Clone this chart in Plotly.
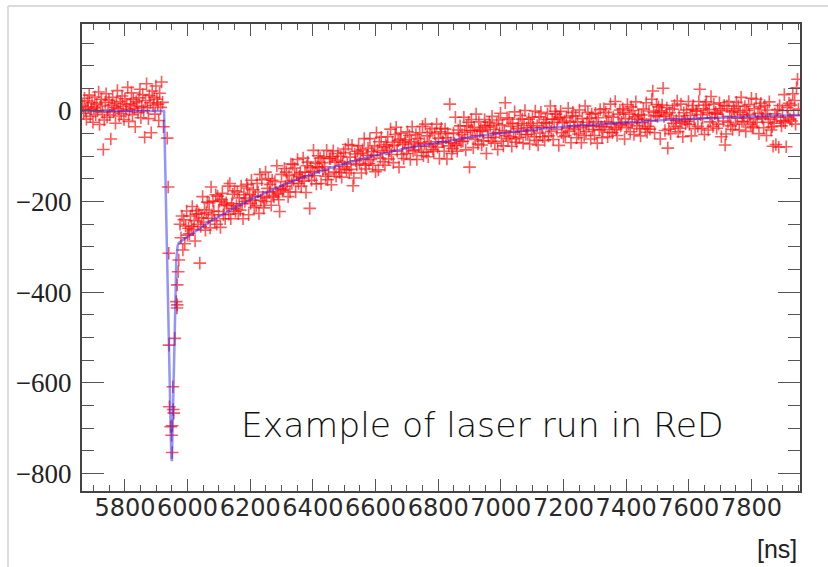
import numpy as np
import plotly.graph_objects as go

# ---------------- data ----------------
# baseline samples before the laser pulse (uniform 3 ns sampling)
X_PRE_START = 5665
X_STEP = 3
PRE_Y = [12, -5, 28, 3, -18, 22, 9, 35, -12, 4,
         18, -25, 7, 31, -8, 15, 0, 42, -30, 11,
         26, -3, -85, -20, 19, 38, -14, 2, 24, -9,
         -62, 13, 30, -2, 8, -27, 17, 45, 5, -11,
         21, -6, 33, 10, -19, 27, -1, 14, 52, -23,
         3, 16, 40, -8, 25, 6, -35, 20, 11, -4,
         29, 48, -15, 9, 36, 1, -58, 23, 60, 7,
         -17, 34, 18, -48, 44, 12, 30, -7, 55, 26,
         15, -21, 39, 8, 64, 19]

# samples on the fast pulse
SPIKE_X = [5923, 5935, 5938, 5940, 5941, 5942, 5946, 5949, 5951, 5951,
           5953, 5954, 5956, 5959, 5964, 5966, 5967, 5967, 5970, 5972]
SPIKE_Y = [-35, -60, -168, -314, -517, -653, -697, -716, -754, -695,
           -609, -659, -667, -502, -421, -435, -428, -384, -355, -329]

# slow tail samples (uniform 3 ns sampling)
X_POST_START = 5976
POST_Y = [
    -250, -280, -232, -307, -240, -293, -254, -221, -274, -259,
    -271, -232, -255, -211, -262, -242, -287, -228, -220, -250,
    -227, -336, -255, -236, -189, -245, -218, -263, -225, -201,
    -237, -203, -258, -168, -229, -199, -221, -242, -185, -250,
    -188, -222, -199, -257, -195, -182, -229, -207, -238, -203,
    -209, -166, -228, -160, -238, -205, -184, -215, -176, -222,
    -209, -179, -227, -192, -219, -166, -205, -238, -185, -200,
    -192, -162, -170, -229, -184, -204, -153, -197, -174, -213,
    -188, -209, -160, -179, -226, -140, -197, -152, -190, -214,
    -200, -135, -192, -171, -149, -179, -162, -208, -153, -187,
    -190, -156, -179, -121, -183, -196, -222, -171, -140, -175,
    -173, -127, -166, -135, -156, -189, -143, -179, -117, -160,
    -118, -153, -126, -179, -140, -107, -160, -145, -136, -166,
    -148, -104, -155, -135, -180, -121, -113, -143, -215, -125,
    -153, -134, -87, -143, -116, -161, -123, -99, -125, -104,
    -160, -114, -131, -101, -123, -144, -87, -152, -139, -105,
    -105, -163, -101, -88, -135, -113, -144, -109, -94, -128,
    -136, -100, -146, -113, -92, -123, -84, -130, -117, -74,
    -137, -102, -129, -76, -165, -148, -95, -110, -119, -89,
    -77, -116, -93, -137, -86, -106, -61, -120, -128, -98,
    -82, -116, -61, -107, -90, -120, -98, -77, -134, -48,
    -87, -130, -68, -104, -58, -91, -112, -81, -120, -74,
    -78, -57, -106, -87, -40, -96, -69, -114, -76, -52,
    -36, -89, -66, -124, -62, -49, -96, -74, -105, -70,
    -64, -94, -46, -81, -54, -107, -68, -35, -88, -73,
    -86, -52, -107, -61, -78, -48, -70, -91, -34, -99,
    -72, -29, -91, -55, -101, -68, -47, -78, -39, -85,
    -89, -50, -73, -29, -80, -60, -105, -46, -38, -68,
    -68, -89, -40, -59, -106, -50, -77, 15, -70, -94,
    -83, -49, -72, -14, -76, -89, -42, -64, -33, -68,
    -52, -67, -14, -47, -86, -33, -60, -25, -124, -43,
    -19, -43, -81, -36, -63, -7, -54, -73, -24, -45,
    -40, -75, -44, -66, -19, -32, -94, -36, -59, -25,
    -33, -67, -12, -58, -41, -71, -49, -28, -85, -20,
    -48, -5, -67, -31, -77, -44, 18, -54, -15, -61,
    -18, -57, -34, -78, -27, -47, -2, -61, -69, -39,
    -28, -58, -10, -45, -18, -71, -32, 1, -52, -37,
    -52, -18, -73, -27, -44, -14, -36, -57, 0, -65,
    -32, -75, -13, -49, -3, -36, -57, -26, -65, -19,
    -27, -6, -55, -36, 11, -45, -18, -63, -25, -1,
    -7, -41, -18, -76, -14, -1, -48, -26, -57, -22,
    -54, -15, -38, 6, -45, -25, -70, -11, -3, -33,
    -41, -11, -59, -24, -51, 2, -37, -70, -17, -32,
    -54, 11, -46, -25, -3, -33, -16, -62, -7, -41,
    -33, -54, -5, -24, -71, -15, -42, 3, -35, -59,
    -41, 5, -34, -3, -24, -57, -11, -47, 15, -28,
    -48, -14, -37, 21, -41, -54, -7, -29, 2, -33,
    -25, 5, -3, -62, -17, -37, 14, -30, -7, -46,
    9, -26, 1, -52, -13, 20, -33, -18, -9, -39,
    -55, -9, -26, 4, -18, -39, 18, -47, -34, 0,
    -40, -21, 26, 44, -3, -48, -10, 14, -12, 9,
    -4, -62, 0, 13, 50, -12, -43, -8, 7, -82,
    -40, -4, -50, -17, 4, -27, 12, -34, -21, 22,
    -46, -11, -38, 15, -24, -57, -4, -19, -28, 2,
    -23, 21, -30, -10, -55, 4, 12, -18, -39, 0,
    0, -34, 21, 48, -8, -38, -16, 5, -52, 13,
    20, -4, -42, 3, -24, 32, -15, -34, 15, -6,
    -3, -38, -7, -29, 18, 5, -57, 1, -22, 12,
    -75, -51, 11, -25, 21, -12, -33, -2, -41, 5,
    1, -29, 19, -16, 11, -42, -3, 30, -23, -8,
    -24, 10, -45, 1, -16, 14, -8, -29, 28, -37,
    -34, 5, -18, 26, -25, -5, -50, 9, 17, -13,
    -16, -37, 12, -7, -54, 2, -25, 20, -18, -42,
    -35, -78, -27, -6, -74, -14, 3, -80, 12, -22,
    -33, 1, -22, 36, -26, -79, 8, -14, 17, -18,
    13, -22, 38, -10, 23, -29, 51, 70, 4,
]

# fitted curve (blue line)
FIT_X = [5663, 5925, 5948, 5950, 5959, 5964, 5968, 5972, 5976, 5990, 6010,
         6040, 6070, 6100, 6150, 6200, 6250, 6300, 6370, 6450, 6530, 6600,
         6700, 6800, 6900, 7000, 7120, 7250, 7400, 7550, 7700, 7850, 7955]
FIT_Y = [0, 0, -766, -773, -490, -330, -298, -291, -289, -282, -273,
         -259, -245, -233, -214, -196, -180, -165, -146, -127, -111, -98,
         -82, -70, -58, -49, -40, -32, -25, -19, -15, -11, -9]

X_TICKS = [5800, 6000, 6200, 6400, 6600, 6800, 7000, 7200, 7400, 7600, 7800]
Y_TICKS = [0, -200, -400, -600, -800]
X_RANGE = [5663, 7955]
Y_RANGE = [-839, 192]

ANNOT_TEXT = "Example of laser run in ReD"
X_UNIT = "[ns]"

# ---------------- build ----------------
x_pre = X_PRE_START + X_STEP * np.arange(len(PRE_Y))
x_post = X_POST_START + X_STEP * np.arange(len(POST_Y))
data_x = np.concatenate([x_pre, np.array(SPIKE_X), x_post])
data_y = np.concatenate([np.array(PRE_Y), np.array(SPIKE_Y), np.array(POST_Y)])

W, H = 828, 567
ML, MR, MT, MB = 82, 28, 24, 76
PW, PH = W - ML - MR, H - MT - MB


def px(xp):
    return (xp - ML) / PW


def py(yp):
    return (H - MB - yp) / PH


fig = go.Figure()
fig.add_trace(go.Scatter(
    x=data_x, y=data_y, mode="markers",
    marker=dict(symbol="cross-thin", size=9,
                line=dict(width=1.6, color="rgba(255,10,10,0.68)")),
    showlegend=False, hoverinfo="skip"))
fig.add_trace(go.Scatter(
    x=FIT_X, y=FIT_Y, mode="lines",
    line=dict(color="rgba(40,40,255,0.5)", width=2.5),
    showlegend=False, hoverinfo="skip"))

axis_common = dict(
    showgrid=False, zeroline=False, showline=True, linewidth=2,
    linecolor="#444", mirror="allticks", ticks="inside", tickwidth=1.3,
    tickcolor="#555", automargin=False,
)

fig.update_layout(
    template="none",
    font=dict(family="DejaVu Sans"),
    width=W, height=H, autosize=False,
    margin=dict(l=ML, r=MR, t=MT, b=MB, pad=0),
    paper_bgcolor="white", plot_bgcolor="white",
    xaxis=dict(range=X_RANGE, tickmode="array", tickvals=X_TICKS,
               ticktext=[str(v) for v in X_TICKS], ticklen=12, tickangle=0,
               tickfont=dict(family="DejaVu Sans", size=24, color="#2a2a2a"),
               ticklabelstandoff=-6,
               minor=dict(dtick=50, tick0=5800, ticklen=6, ticks="inside",
                          tickcolor="#555", tickwidth=1.3),
               **axis_common),
    yaxis=dict(range=Y_RANGE, tickmode="array", tickvals=Y_TICKS,
               ticklen=22,
               tickfont=dict(family="Liberation Serif, Times New Roman, serif",
                             size=27, color="#222"),
               ticklabelstandoff=3,
               minor=dict(dtick=50, tick0=0, ticklen=12, ticks="inside",
                          tickcolor="#555", tickwidth=1.3),
               **axis_common),
    annotations=[
        dict(text=ANNOT_TEXT, xref="paper", yref="paper",
             x=px(239), y=py(425), xanchor="left", yanchor="middle",
             showarrow=False,
             font=dict(family="DejaVu Sans", size=34.6, color="#111",
                       weight=200)),
        dict(text=X_UNIT, xref="paper", yref="paper",
             x=px(799), y=py(549), xanchor="right", yanchor="middle",
             showarrow=False,
             font=dict(family="Liberation Sans", size=25, color="#222")),
    ],
    shapes=[
        dict(type="line", xref="paper", yref="paper",
             x0=px(8), x1=px(828), y0=py(6), y1=py(6),
             line=dict(color="#dcdcdc", width=2)),
        dict(type="line", xref="paper", yref="paper",
             x0=px(8), x1=px(8), y0=py(6), y1=py(567),
             line=dict(color="#dcdcdc", width=2)),
    ],
)

fig.write_html("out.html")
